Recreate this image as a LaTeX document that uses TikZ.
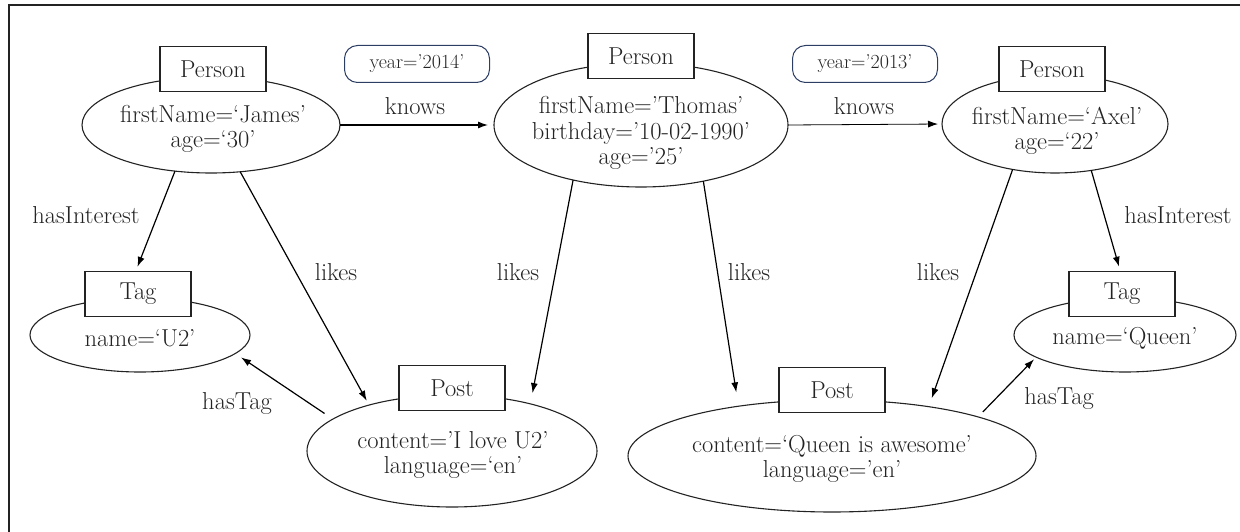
\documentclass[tikz,border=0pt]{standalone}
\usepackage{fontspec}
\usetikzlibrary{shapes.geometric,arrows.meta}
\definecolor{yrblue}{RGB}{45,62,100}
\definecolor{inkgray}{RGB}{35,35,35}
\begin{document}
\begin{tikzpicture}[x=1pt,y=-1pt,
  every node/.style={font=\fontsize{24.5}{25.5}\selectfont, inner sep=0pt, outer sep=0pt, text=inkgray},
  ell/.style={draw=inkgray, line width=1.1pt, ellipse, fill=white},
  lbl/.style={draw=inkgray, line width=1.3pt, rectangle, fill=white, minimum width=106pt, minimum height=45pt},
  txt/.style={align=center},
  yrbox/.style={draw=yrblue, line width=1pt, rounded corners=13pt, minimum width=145pt, minimum height=37pt, font=\fontsize{20}{22}\selectfont},
  conn/.style={draw=black, line width=1.2pt, -{Latex[length=10pt,width=7pt]}},
]
\useasboundingbox (0,0) rectangle (1240,532);
% frame
\draw[line width=2pt, inkgray] (9,532) -- (9,5) -- (1240,5);

% ellipses
\node[ell, minimum width=258pt, minimum height=96pt] (e1) at (211,125) {};
\node[ell, minimum width=294pt, minimum height=124pt] (e2) at (641,125) {};
\node[ell, minimum width=226pt, minimum height=98pt] (e3) at (1055,124) {};
\node[ell, minimum width=220pt, minimum height=74pt] (t1e) at (140,335) {};
\node[ell, minimum width=222pt, minimum height=74pt] (t2e) at (1125,335) {};
\node[ell, minimum width=290pt, minimum height=112pt] (p1e) at (452,451) {};
\node[ell, minimum width=408pt, minimum height=112pt] (p2e) at (832,456) {};

% ellipse texts
\node[txt] (e1t) at (213,129) {firstName=`James'\\age=`30'};
\node[txt] (e2t) at (641,133) {firstName='Thomas'\\birthday='10-02-1990'\\age='25'};
\node[txt] (e3t) at (1057,131) {firstName=`Axel'\\age=`22'};
\node[txt] (t1t) at (140,338) {name=`U2'};
\node[txt] (t2t) at (1125,338) {name=`Queen'};
\node[txt] (p1t) at (453,455) {content='I love U2'\\language=`en'};
\node[txt] (p2t) at (832,459) {content=`Queen is awesome'\\language='en'};

% label boxes
\node[lbl] (b1) at (213,69) {Person};
\node[lbl] (b2) at (641,56) {Person};
\node[lbl] (b3) at (1052,69) {Person};
\node[lbl] (t1b) at (138,294) {Tag};
\node[lbl] (t2b) at (1122,294) {Tag};
\node[lbl] (p1b) at (452,388) {Post};
\node[lbl] (p2b) at (832,390) {Post};

% edge property boxes
\node[yrbox] (y1) at (417,64) {year='2014'};
\node[yrbox] (y2) at (865,64) {year='2013'};

% edge labels
\node (k1) at (415,106) {knows};
\node (k2) at (864,106) {knows};
\node (hi1) at (86,215) {hasInterest};
\node (hi2) at (1178,215) {hasInterest};
\node (l1) at (336,272) {likes};
\node (l2) at (518,272) {likes};
\node (l3) at (749,272) {likes};
\node (l4) at (938,272) {likes};
\node (ht1) at (237,403) {hasTag};
\node (ht2) at (1059,398) {hasTag};

% connectors
\draw[conn, shorten >=6pt] (e1.east) -- (e2.west);
\draw[conn, line width=0.8pt, shorten >=4pt] (e2.east) -- (e3.west);
\draw[conn, shorten >=5pt] (e1.232) -- (t1b.96);
\draw[conn, shorten >=5pt] (e1.302) -- (p1e.151);
\draw[conn, shorten >=11pt] (e2.219) -- (p1e.31);
\draw[conn, shorten >=14pt] (e2.318) -- (p2e.152);
\draw[conn, shorten >=9pt] (e3.227) -- (p2e.27);
\draw[conn, shorten >=5pt] (e3.308) -- (t2b.94);
\draw[conn, shorten <=10pt, shorten >=7pt] (p1e.165) -- (t1e.349);
\draw[conn, shorten <=7pt, shorten >=3pt] (p2e.15) -- (t2e.194);
\end{tikzpicture}
\end{document}
